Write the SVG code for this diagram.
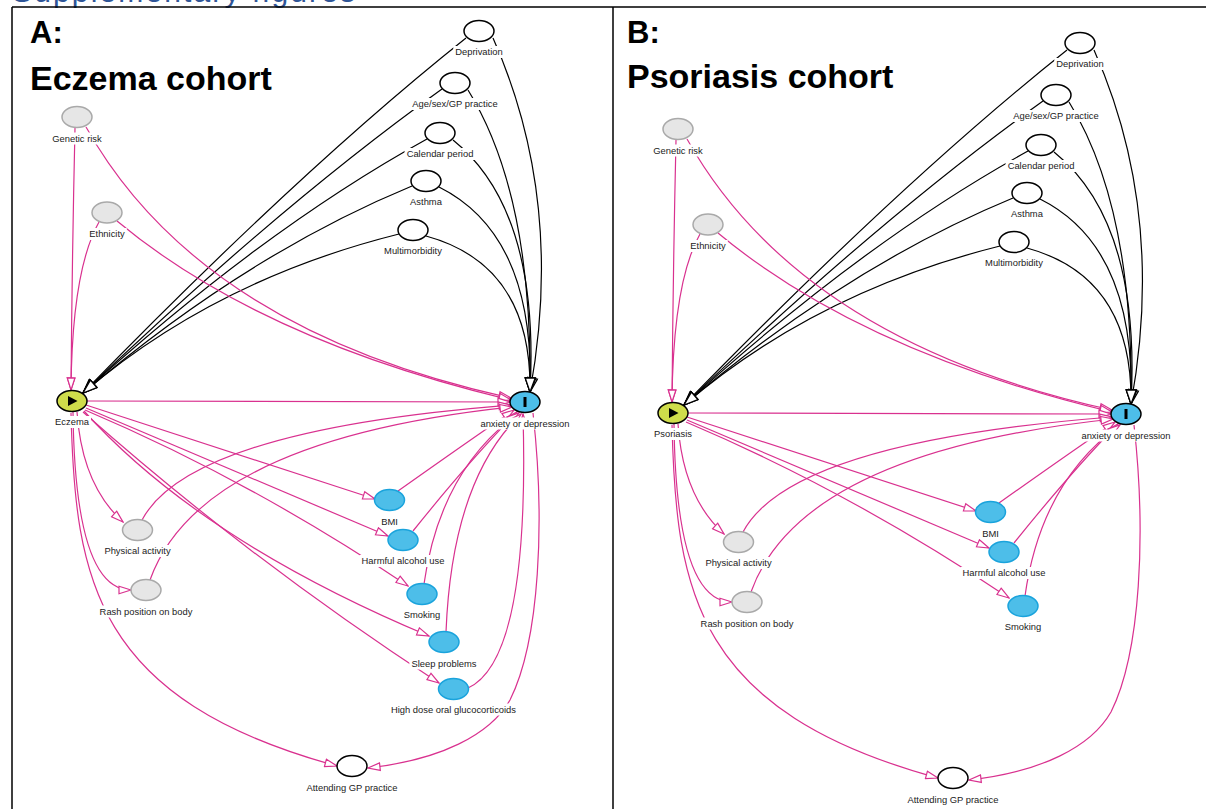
<svg xmlns="http://www.w3.org/2000/svg" width="1206" height="809" viewBox="0 0 1206 809">
<style>
.k{fill:none;stroke:#000;stroke-width:1.2;marker-end:url(#ak)}
.p{fill:none;stroke:#d9318f;stroke-width:1.2;marker-end:url(#ap)}
.nw{fill:#fff;stroke:#000;stroke-width:1.5}
.ng{fill:#e6e6e6;stroke:#a9a9a9;stroke-width:1.5}
.nb{fill:#4dbee9;stroke:#1aa3dc;stroke-width:1.5}
.ne{fill:#cfdc4b;stroke:#000;stroke-width:1.5}
.no{fill:#4dbee9;stroke:#000;stroke-width:1.5}
.lb{fill:#fff}
.lt{font-family:"Liberation Sans",Arial,sans-serif;font-size:9.4px;fill:#222;text-anchor:middle}
.ti{font-family:"Liberation Sans",Arial,sans-serif;font-weight:bold;fill:#000}
</style>
<defs>
<marker id="ap" viewBox="0 0 14 10" refX="13" refY="5" markerWidth="14" markerHeight="10" markerUnits="userSpaceOnUse" orient="auto"><path d="M1,1.2 L13,5 L1,8.8 Z" fill="#fff" stroke="#d9318f" stroke-width="1.2"/></marker>
<marker id="ak" viewBox="0 0 16 12" refX="15" refY="6" markerWidth="16" markerHeight="12" markerUnits="userSpaceOnUse" orient="auto"><path d="M1,1 L15,6 L1,11 Z" fill="#fff" stroke="#000" stroke-width="1.3"/></marker>
</defs>
<rect width="1206" height="809" fill="#fff"/>
<text x="12" y="1.5" font-family="Liberation Sans,Arial,sans-serif" font-size="30" fill="#2f5597" textLength="343">Supplementary figures</text>
<g id="frame" stroke="#000" stroke-width="1.5" fill="none">
<path d="M12,7 H1206 M12,7 V809 M613,7 V809"/>
</g>
<g id="titles">
<text class="ti" x="30" y="43" font-size="31">A:</text>
<text class="ti" x="30" y="90" font-size="34">Eczema cohort</text>
<text class="ti" x="627" y="43" font-size="31">B:</text>
<text class="ti" x="627" y="88" font-size="34">Psoriasis cohort</text>
</g>

<g id="panelA">
<g id="a-connectors">
<path class="k" d="M466,38 Q300,170 83,393"/>
<path class="k" d="M442,89 Q280,205 83,393"/>
<path class="k" d="M427,139 Q262,230 83,393"/>
<path class="k" d="M412,186 Q245,255 83,393"/>
<path class="k" d="M399,234 Q215,280 83,393"/>
<path class="k" d="M493,38 Q565,200 530,392"/>
<path class="k" d="M468,90 Q533,195 530,392"/>
<path class="k" d="M453,140 Q540,210 530,392"/>
<path class="k" d="M439,187 Q535,235 530,392"/>
<path class="k" d="M426,236 Q532,265 530,392"/>
<path class="p" d="M75,128 Q72,260 71,390"/>
<path class="p" d="M86,127 Q200,330 511,398"/>
<path class="p" d="M99,222 Q72,270 71,390"/>
<path class="p" d="M117,221 Q260,340 511,400"/>
<path class="p" d="M87,401 L510,402"/>
<path class="p" d="M86,405 L375,499"/>
<path class="p" d="M86,408 L388,536"/>
<path class="p" d="M85,410 Q250,480 408,586"/>
<path class="p" d="M84,411 Q200,540 429,636"/>
<path class="p" d="M83,412 Q250,560 439,683"/>
<path class="p" d="M77,412 Q82,485 123,522"/>
<path class="p" d="M73,412 Q75,590 131,590"/>
<path class="p" d="M71,413 C75,580 95,700 337,766"/>
<path class="p" d="M142,520 Q190,430 511,405"/>
<path class="p" d="M150,580 Q200,440 512,407"/>
<path class="p" d="M398,491 Q470,440 514,410"/>
<path class="p" d="M413,531 Q470,460 517,412"/>
<path class="p" d="M424,584 Q440,470 519,413"/>
<path class="p" d="M446,632 Q452,480 521,414"/>
<path class="p" d="M468,688 Q530,660 523,414"/>
<path class="p" d="M533,413 C545,520 540,640 510,700 C490,735 440,760 368,768"/>
</g>
<g id="a-deprivation"><ellipse class="nw" cx="479" cy="31" rx="15" ry="10.5"/><rect class="lb" x="453.25" y="46" width="51.5" height="12"/><text class="lt" x="479" y="55">Deprivation</text></g>
<g id="a-agesex"><ellipse class="nw" cx="455" cy="83" rx="15" ry="10.5"/><rect class="lb" x="410.15" y="98" width="89.7" height="12"/><text class="lt" x="455" y="107">Age/sex/GP practice</text></g>
<g id="a-calendar"><ellipse class="nw" cx="440" cy="133" rx="15" ry="10.5"/><rect class="lb" x="404.55" y="148" width="70.9" height="12"/><text class="lt" x="440" y="157">Calendar period</text></g>
<g id="a-asthma"><ellipse class="nw" cx="426" cy="181" rx="15" ry="10.5"/><rect class="lb" x="408.05" y="196" width="35.9" height="12"/><text class="lt" x="426" y="205">Asthma</text></g>
<g id="a-multimorbidity"><ellipse class="nw" cx="413" cy="230" rx="15" ry="10.5"/><rect class="lb" x="382" y="245" width="62" height="12"/><text class="lt" x="413" y="254">Multimorbidity</text></g>
<g id="a-genetic"><ellipse class="ng" cx="77" cy="117" rx="15" ry="10.5"/><rect class="lb" x="50.2" y="132.5" width="53.6" height="12"/><text class="lt" x="77" y="141.5">Genetic risk</text></g>
<g id="a-ethnicity"><ellipse class="ng" cx="107" cy="212.5" rx="15" ry="10.5"/><rect class="lb" x="87.25" y="228" width="39.5" height="12"/><text class="lt" x="107" y="237">Ethnicity</text></g>
<g id="a-eczema"><ellipse class="ne" cx="72" cy="401" rx="15" ry="10.5"/><path d="M68,396 L77.5,401 L68,406 Z" fill="#000"/><rect class="lb" x="53" y="416" width="38" height="12"/><text class="lt" x="72" y="425">Eczema</text></g>
<g id="a-anxiety"><ellipse class="no" cx="525" cy="402" rx="15" ry="10.5"/><rect x="523.5" y="397" width="3" height="10" fill="#000"/><rect class="lb" x="478.35" y="417.5" width="93.3" height="12"/><text class="lt" x="525" y="426.5">anxiety or depression</text></g>
<g id="a-bmi"><ellipse class="nb" cx="389.5" cy="500" rx="15" ry="10.5"/><rect class="lb" x="379.15" y="515.5" width="20.7" height="12"/><text class="lt" x="389.5" y="524.5">BMI</text></g>
<g id="a-alcohol"><ellipse class="nb" cx="403" cy="540" rx="15" ry="10.5"/><rect class="lb" x="359.5" y="555" width="87" height="12"/><text class="lt" x="403" y="564">Harmful alcohol use</text></g>
<g id="a-smoking"><ellipse class="nb" cx="422" cy="594" rx="15" ry="10.5"/><rect class="lb" x="401.7" y="609" width="40.6" height="12"/><text class="lt" x="422" y="618">Smoking</text></g>
<g id="a-sleep"><ellipse class="nb" cx="444" cy="642" rx="15" ry="10.5"/><rect class="lb" x="409.35" y="657.5" width="69.3" height="12"/><text class="lt" x="444" y="666.5">Sleep problems</text></g>
<g id="a-glucocorticoids"><ellipse class="nb" cx="453.5" cy="689" rx="15" ry="10.5"/><rect class="lb" x="388.8" y="703.5" width="129.4" height="12"/><text class="lt" x="453.5" y="712.5">High dose oral glucocorticoids</text></g>
<g id="a-physical"><ellipse class="ng" cx="137.5" cy="530" rx="15" ry="10.5"/><rect class="lb" x="102.35" y="545" width="70.3" height="12"/><text class="lt" x="137.5" y="554">Physical activity</text></g>
<g id="a-rash"><ellipse class="ng" cx="146" cy="590" rx="15" ry="10.5"/><rect class="lb" x="97.5" y="605.5" width="97" height="12"/><text class="lt" x="146" y="614.5">Rash position on body</text></g>
<g id="a-attending"><ellipse class="nw" cx="352" cy="766" rx="15" ry="10.5"/><rect class="lb" x="304.3" y="782" width="95.4" height="12"/><text class="lt" x="352" y="791">Attending GP practice</text></g>
</g>

<g id="panelB" transform="translate(601,12)">
<g id="b-connectors">
<path class="k" d="M466,38 Q300,170 83,393"/>
<path class="k" d="M442,89 Q280,205 83,393"/>
<path class="k" d="M427,139 Q262,230 83,393"/>
<path class="k" d="M412,186 Q245,255 83,393"/>
<path class="k" d="M399,234 Q215,280 83,393"/>
<path class="k" d="M493,38 Q565,200 530,392"/>
<path class="k" d="M468,90 Q533,195 530,392"/>
<path class="k" d="M453,140 Q540,210 530,392"/>
<path class="k" d="M439,187 Q535,235 530,392"/>
<path class="k" d="M426,236 Q532,265 530,392"/>
<path class="p" d="M75,128 Q72,260 71,390"/>
<path class="p" d="M86,127 Q200,330 511,398"/>
<path class="p" d="M99,222 Q72,270 71,390"/>
<path class="p" d="M117,221 Q260,340 511,400"/>
<path class="p" d="M87,401 L510,402"/>
<path class="p" d="M86,405 L375,499"/>
<path class="p" d="M86,408 L388,536"/>
<path class="p" d="M85,410 Q250,480 408,586"/>
<path class="p" d="M77,412 Q82,485 123,522"/>
<path class="p" d="M73,412 Q75,590 131,590"/>
<path class="p" d="M71,413 C75,580 95,700 337,766"/>
<path class="p" d="M142,520 Q190,430 511,405"/>
<path class="p" d="M150,580 Q200,440 512,407"/>
<path class="p" d="M398,491 Q470,440 514,410"/>
<path class="p" d="M413,531 Q470,460 517,412"/>
<path class="p" d="M424,584 Q440,470 519,413"/>
<path class="p" d="M533,413 C545,520 540,640 510,700 C490,735 440,760 368,768"/>
</g>
<g id="b-deprivation"><ellipse class="nw" cx="479" cy="31" rx="15" ry="10.5"/><rect class="lb" x="453.25" y="46" width="51.5" height="12"/><text class="lt" x="479" y="55">Deprivation</text></g>
<g id="b-agesex"><ellipse class="nw" cx="455" cy="83" rx="15" ry="10.5"/><rect class="lb" x="410.15" y="98" width="89.7" height="12"/><text class="lt" x="455" y="107">Age/sex/GP practice</text></g>
<g id="b-calendar"><ellipse class="nw" cx="440" cy="133" rx="15" ry="10.5"/><rect class="lb" x="404.55" y="148" width="70.9" height="12"/><text class="lt" x="440" y="157">Calendar period</text></g>
<g id="b-asthma"><ellipse class="nw" cx="426" cy="181" rx="15" ry="10.5"/><rect class="lb" x="408.05" y="196" width="35.9" height="12"/><text class="lt" x="426" y="205">Asthma</text></g>
<g id="b-multimorbidity"><ellipse class="nw" cx="413" cy="230" rx="15" ry="10.5"/><rect class="lb" x="382" y="245" width="62" height="12"/><text class="lt" x="413" y="254">Multimorbidity</text></g>
<g id="b-genetic"><ellipse class="ng" cx="77" cy="117" rx="15" ry="10.5"/><rect class="lb" x="50.2" y="132.5" width="53.6" height="12"/><text class="lt" x="77" y="141.5">Genetic risk</text></g>
<g id="b-ethnicity"><ellipse class="ng" cx="107" cy="212.5" rx="15" ry="10.5"/><rect class="lb" x="87.25" y="228" width="39.5" height="12"/><text class="lt" x="107" y="237">Ethnicity</text></g>
<g id="b-psoriasis"><ellipse class="ne" cx="72" cy="401" rx="15" ry="10.5"/><path d="M68,396 L77.5,401 L68,406 Z" fill="#000"/><rect class="lb" x="51" y="416" width="42" height="12"/><text class="lt" x="72" y="425">Psoriasis</text></g>
<g id="b-anxiety"><ellipse class="no" cx="525" cy="402" rx="15" ry="10.5"/><rect x="523.5" y="397" width="3" height="10" fill="#000"/><rect class="lb" x="478.35" y="417.5" width="93.3" height="12"/><text class="lt" x="525" y="426.5">anxiety or depression</text></g>
<g id="b-bmi"><ellipse class="nb" cx="389.5" cy="500" rx="15" ry="10.5"/><rect class="lb" x="379.15" y="515.5" width="20.7" height="12"/><text class="lt" x="389.5" y="524.5">BMI</text></g>
<g id="b-alcohol"><ellipse class="nb" cx="403" cy="540" rx="15" ry="10.5"/><rect class="lb" x="359.5" y="555" width="87" height="12"/><text class="lt" x="403" y="564">Harmful alcohol use</text></g>
<g id="b-smoking"><ellipse class="nb" cx="422" cy="594" rx="15" ry="10.5"/><rect class="lb" x="401.7" y="609" width="40.6" height="12"/><text class="lt" x="422" y="618">Smoking</text></g>
<g id="b-physical"><ellipse class="ng" cx="137.5" cy="530" rx="15" ry="10.5"/><rect class="lb" x="102.35" y="545" width="70.3" height="12"/><text class="lt" x="137.5" y="554">Physical activity</text></g>
<g id="b-rash"><ellipse class="ng" cx="146" cy="590" rx="15" ry="10.5"/><rect class="lb" x="97.5" y="605.5" width="97" height="12"/><text class="lt" x="146" y="614.5">Rash position on body</text></g>
<g id="b-attending"><ellipse class="nw" cx="352" cy="766" rx="15" ry="10.5"/><rect class="lb" x="304.3" y="782" width="95.4" height="12"/><text class="lt" x="352" y="791">Attending GP practice</text></g>
</g>
</svg>
